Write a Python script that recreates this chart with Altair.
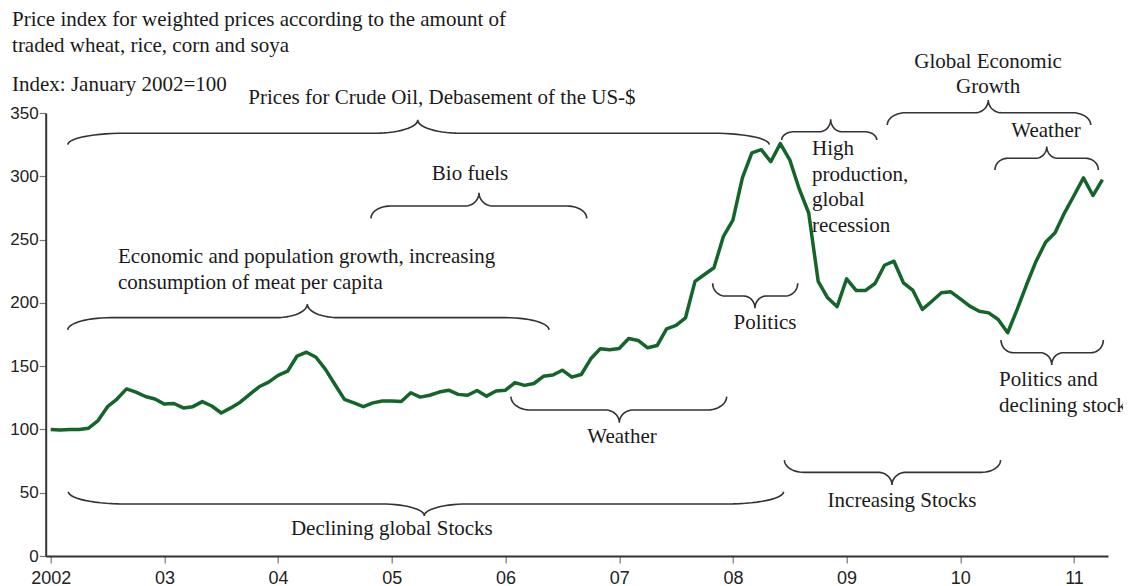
import math
import altair as alt
import pandas as pd

# ---------------- data ----------------
start_year = 2002
# monthly index values, Jan 2002 .. Apr 2011 (Jan 2002 = 100)
index_values = [
    100, 99.5, 100, 100, 101, 107, 118, 124, 132, 129.5, 126, 124,            # 2002
    120, 120.5, 117, 118, 122, 118.5, 113, 117, 121.5, 127.7, 133.7, 137.4,   # 2003
    142.7, 146, 158, 161, 157, 147.4, 135.5, 123.7, 121, 118, 121, 122.4,     # 2004
    122.4, 122, 129, 125.5, 127, 129.5, 131, 127.7, 127, 130.8, 126.3, 130.3, # 2005
    131, 137, 134.8, 136.3, 142, 143, 146.8, 141.3, 143.4, 155.8, 163.7, 163, # 2006
    164, 171.9, 170.3, 164.5, 166.3, 179.5, 182.2, 188.2, 217, 222.4, 227.7, 252.6,  # 2007
    265.3, 298.7, 318.5, 321, 311.5, 325.8, 313, 290, 271, 217, 204, 197,     # 2008
    219, 209.8, 209.8, 215.3, 229.7, 232.9, 215.8, 209.8, 194.8, 201.3, 208, 208.7,  # 2009
    203.2, 197.4, 193.4, 192.1, 186.9, 176.4, 194.8, 214.5, 232.9, 247.9, 255.3, 271.1,  # 2010
    284.8, 298.7, 284.8, 297.4,                                               # 2011
]

x_tick_years = list(range(2002, 2012))
x_tick_labels = ["2002", "03", "04", "05", "06", "07", "08", "09", "10", "11"]
y_ticks = [0, 50, 100, 150, 200, 250, 300, 350]

# header text lines (left aligned)
title_lines = [
    "Price index for weighted prices according to the amount of",
    "traded wheat, rice, corn and soya",
    "Index: January 2002=100",
]
title_x = [2001.66, 2001.66, 2001.66]
title_y = [423.5, 402.9, 372.1]

# curly braces (years on x, index units on y)
brace_names = ["oil", "bio", "econ", "weather1", "politics1", "highprod",
               "globgrowth", "weather2", "politics2", "declstocks", "incstocks"]
brace_x1 = [2002.150, 2004.817, 2002.150, 2006.048, 2007.822, 2008.429,
            2009.358, 2010.305, 2010.358, 2002.155, 2008.453]
brace_x2 = [2008.320, 2006.714, 2006.383, 2007.945, 2008.570, 2009.265,
            2011.147, 2011.214, 2011.258, 2008.446, 2010.354]
brace_xc = [2005.228, 2005.767, 2004.257, 2007.001, 2008.194, 2008.860,
            2010.246, 2010.760, 2010.804, 2005.286, 2009.399]
brace_yend = [325.0, 266.8, 178.6, 125.9, 215.5, 328.7, 340.5, 305.0, 170.7, 50.8, 75.8]
brace_ymid = [334.0, 276.5, 188.3, 115.4, 205.4, 335.2, 350.2, 314.2, 160.6, 41.1, 66.1]
brace_ytip = [344.5, 287.0, 199.1, 105.3, 195.7, 345.0, 360.3, 323.4, 150.9, 31.8, 56.1]

# annotation text lines
label_text = [
    "Prices for Crude Oil, Debasement of the US-$",
    "Bio fuels",
    "Economic and population growth, increasing",
    "consumption of meat per capita",
    "Politics",
    "High",
    "production,",
    "global",
    "recession",
    "Global Economic",
    "Growth",
    "Weather",
    "Politics and",
    "declining stocks",
    "Weather",
    "Increasing Stocks",
    "Declining global Stocks",
]
label_x = [2005.441, 2005.688, 2002.592, 2002.592, 2008.282, 2008.696, 2008.696,
           2008.696, 2008.696, 2010.244, 2010.244, 2010.754, 2010.341, 2010.341,
           2007.025, 2009.487, 2005.000]
label_y = [361.9, 301.8, 236.2, 215.7, 184.1, 321.6, 301.0, 281.3, 260.7,
           390.3, 370.6, 335.9, 139.1, 118.5, 94.0, 43.5, 21.3]
label_align = ["center", "center", "left", "left", "center", "left", "left",
               "left", "left", "center", "center", "center", "left", "left",
               "center", "center", "center"]

# ---------------- build tables ----------------
df_line = pd.DataFrame({
    "year": [start_year + i / 12 for i in range(len(index_values))],
    "index": index_values,
})


def brace_points(x1, x2, xc, yend, ymid, ytip, n=14):
    w = x2 - x1
    rh = min(max(0.09 * w, 0.11), 0.5)
    rc = min(max(0.065 * w, 0.10), 0.38)
    pts = []
    for k in range(n + 1):
        t = (math.pi / 2) * k / n
        pts.append((x1 + rh * (1 - math.cos(t)), yend + (ymid - yend) * math.sin(t)))
    for k in range(n + 1):
        t = (math.pi / 2) * k / n
        pts.append((xc - rc + rc * math.sin(t), ymid + (ytip - ymid) * (1 - math.cos(t))))
    for k in range(n, -1, -1):
        t = (math.pi / 2) * k / n
        pts.append((xc + rc - rc * math.sin(t), ymid + (ytip - ymid) * (1 - math.cos(t))))
    for k in range(n, -1, -1):
        t = (math.pi / 2) * k / n
        pts.append((x2 - rh * (1 - math.cos(t)), yend + (ymid - yend) * math.sin(t)))
    return pts


rows = []
for i, name in enumerate(brace_names):
    pts = brace_points(brace_x1[i], brace_x2[i], brace_xc[i],
                       brace_yend[i], brace_ymid[i], brace_ytip[i])
    for s, (bx, by) in enumerate(pts):
        rows.append({"bid": name, "seq": s, "bx": bx, "by": by})
df_brace = pd.DataFrame(rows)

df_labels = pd.DataFrame({"t": label_text, "tx": label_x, "ty": label_y, "al": label_align})
df_title = pd.DataFrame({"t": title_lines, "tx": title_x, "ty": title_y})

# ---------------- chart ----------------
x_scale = alt.Scale(domain=[2001.956, 2011.299], nice=False, zero=False)
y_scale = alt.Scale(domain=[0, 350], nice=False)

label_expr = "[" + ",".join("'%s'" % s for s in x_tick_labels) + "][round(datum.value) - 2002]"
x_axis = alt.Axis(values=x_tick_years, labelExpr=label_expr, title=None, grid=False,
                  tickSize=7, labelPadding=6, labelFontSize=18, labelFont="Liberation Sans",
                  labelColor="#222222", domainColor="#333333", domainWidth=2,
                  tickColor="#777777", tickWidth=1.2, labelFlush=False)
y_axis = alt.Axis(values=y_ticks, title=None, grid=False, tickSize=6.5, labelPadding=1,
                  labelFontSize=17, labelFont="Liberation Sans", labelColor="#222222",
                  domainColor="#333333", domainWidth=2, tickColor="#777777", tickWidth=1.2)

GREEN = "#13652a"
TXT = "#1a1a1a"
SERIF = "Liberation Serif"

line = alt.Chart(df_line).mark_line(color=GREEN, strokeWidth=3.5, strokeJoin="round").encode(
    x=alt.X("year:Q", scale=x_scale, axis=x_axis),
    y=alt.Y("index:Q", scale=y_scale, axis=y_axis),
)

braces = alt.Chart(df_brace).mark_line(color="#333333", strokeWidth=1.6).encode(
    x=alt.X("bx:Q", scale=x_scale, axis=x_axis),
    y=alt.Y("by:Q", scale=y_scale, axis=y_axis),
    detail="bid:N",
    order="seq:Q",
)

text_center = alt.Chart(df_labels).transform_filter("datum.al == 'center'").mark_text(
    font=SERIF, fontSize=21, color=TXT, align="center", baseline="middle"
).encode(
    x=alt.X("tx:Q", scale=x_scale, axis=x_axis),
    y=alt.Y("ty:Q", scale=y_scale, axis=y_axis),
    text="t:N",
)

text_left = alt.Chart(df_labels).transform_filter("datum.al == 'left'").mark_text(
    font=SERIF, fontSize=21, color=TXT, align="left", baseline="middle"
).encode(
    x=alt.X("tx:Q", scale=x_scale, axis=x_axis),
    y=alt.Y("ty:Q", scale=y_scale, axis=y_axis),
    text="t:N",
)

titles = alt.Chart(df_title).mark_text(
    font=SERIF, fontSize=21, color=TXT, align="left", baseline="middle"
).encode(
    x=alt.X("tx:Q", scale=x_scale, axis=x_axis),
    y=alt.Y("ty:Q", scale=y_scale, axis=y_axis),
    text="t:N",
)

chart = alt.layer(line, braces, text_center, text_left, titles).properties(
    width=1062.3,
    height=443,
    autosize=alt.AutoSizeParams(type="none"),
    padding={"left": 37.7, "top": 105, "right": 15, "bottom": 30},
    background="white",
).configure_view(stroke=None)

chart.save("out.html", embed_options={"renderer": "svg", "actions": False})
